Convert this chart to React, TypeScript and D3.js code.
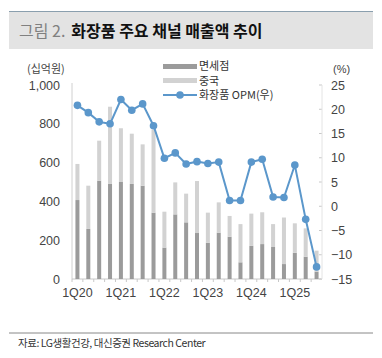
import React from 'react';
import * as d3 from 'd3';

const quarters = [
  '1Q20', '2Q20', '3Q20', '4Q20',
  '1Q21', '2Q21', '3Q21', '4Q21',
  '1Q22', '2Q22', '3Q22', '4Q22',
  '1Q23', '2Q23', '3Q23', '4Q23',
  '1Q24', '2Q24', '3Q24', '4Q24',
  '1Q25', '2Q25', '3Q25',
];
// 십억원
const dutyFree = [407, 258, 507, 490, 500, 490, 481, 342, 162, 333, 292, 237, 187, 239, 218, 86, 171, 180, 165, 77, 135, 115, 38];
const china = [186, 223, 206, 398, 277, 259, 213, 428, 185, 165, 148, 268, 155, 156, 107, 197, 166, 164, 118, 240, 152, 146, 108];
// %
const opm = [20.8, 19.3, 17.4, 17.0, 22.0, 19.8, 21.1, 16.6, 9.9, 11.0, 8.7, 9.2, 8.8, 9.1, 1.2, 1.2, 9.1, 9.7, 1.9, 1.8, 8.5, -2.7, -12.5];
const leftTicks = [0, 200, 400, 600, 800, 1000];
const rightTicks = [25, 20, 15, 10, 5, 0, -5, -10, -15];
const xLabels = ['1Q20', '1Q21', '1Q22', '1Q23', '1Q24', '1Q25'];

const W = 382;
const H = 358;
const L = 72;
const R = 322;
const T = 85;
const B = 279;

const DARK = '#9b9b9b';
const LIGHT = '#d2d2d2';
const BLUE = '#5b97cb';
const FONT = '"Liberation Sans", "Noto Sans CJK KR", sans-serif';

export default function App() {
  const x = d3.scaleBand().domain(quarters).range([L, R]);
  const yL = d3.scaleLinear().domain([0, 1000]).range([B, T]);
  const yR = d3.scaleLinear().domain([-15, 25]).range([B, T]);
  const bw = 4;
  const cx = (q: string) => (x(q) as number) + x.bandwidth() / 2;
  const line = d3.line<number>().x((_, i) => cx(quarters[i])).y(d => yR(d));
  const fmt = d3.format(',');

  return (
    <svg width={W} height={H} style={{ position: 'absolute', left: 0, top: 0, background: '#fff' }} fontFamily={FONT}>
      {/* title bar */}
      <rect x={9} y={11} width={364} height={38} fill="#e3e3e3" />
      <line x1={9} x2={373} y1={11.5} y2={11.5} stroke="#8a9fae" strokeWidth={1} />
      <text x={19} y={37} fontSize={16} fill="#808080" fontFamily='"Noto Sans CJK KR", sans-serif'>
        그림 2.
        <tspan dx={6} fill="#111" fontWeight="bold">화장품 주요 채널 매출액 추이</tspan>
      </text>

      {/* unit labels */}
      <text x={27} y={73} fontSize={11} fill="#444" fontFamily='"Noto Sans CJK KR", sans-serif'>(십억원)</text>
      <text x={333} y={73} fontSize={11} fill="#444">(%)</text>

      {/* axes */}
      <line x1={L} x2={L} y1={T - 2} y2={B} stroke="#d0d0d0" />
      <line x1={L} x2={R} y1={B} y2={B} stroke="#c8c8c8" />
      {quarters.map(q => (
        <line key={q} x1={x(q) as number} x2={x(q) as number} y1={B} y2={B + 3} stroke="#c8c8c8" />
      ))}
      {leftTicks.map(t => (
        <text key={t} x={60} y={yL(t) + 4.5} fontSize={12.5} textAnchor="end" fill="#444">{fmt(t)}</text>
      ))}
      {rightTicks.map(t => (
        <g key={t}>
          <line x1={R - 3} x2={R} y1={yR(t)} y2={yR(t)} stroke="#c8c8c8" />
          <text x={331} y={yR(t) + 4.5} fontSize={12.5} fill="#444">{d3.format('')(t).replace('-', '−')}</text>
        </g>
      ))}
      <line x1={R} x2={R} y1={T} y2={B} stroke="#e4e4e4" />
      {xLabels.map(q => (
        <text key={q} x={cx(q)} y={297} fontSize={12.5} textAnchor="middle" fill="#444">{q}</text>
      ))}

      {/* bars */}
      {quarters.map((q, i) => (
        <g key={q}>
          <rect x={cx(q) - bw / 2} width={bw} y={yL(dutyFree[i])} height={B - yL(dutyFree[i])} fill={DARK} />
          <rect x={cx(q) - bw / 2} width={bw} y={yL(dutyFree[i] + china[i])} height={yL(dutyFree[i]) - yL(dutyFree[i] + china[i])} fill={LIGHT} />
        </g>
      ))}

      {/* OPM line */}
      <path d={line(opm) as string} fill="none" stroke={BLUE} strokeWidth={2} />
      {opm.map((v, i) => (
        <circle key={i} cx={cx(quarters[i])} cy={yR(v)} r={3.8} fill={BLUE} />
      ))}

      {/* legend */}
      <g fontFamily='"Noto Sans CJK KR", sans-serif' fontSize={11} fill="#333">
        <rect x={163} y={64} width={34} height={5} fill={DARK} />
        <text x={199} y={70}>면세점</text>
        <rect x={163} y={78} width={34} height={5} fill={LIGHT} />
        <text x={199} y={84.5}>중국</text>
        <line x1={163} x2={197} y1={95} y2={95} stroke={BLUE} strokeWidth={2} />
        <circle cx={180} cy={95} r={3.8} fill={BLUE} />
        <text x={199} y={99}>화장품 OPM(우)</text>
      </g>

      {/* source */}
      <line x1={9} x2={373} y1={333} y2={333} stroke="#888" />
      <text x={18} y={347} fontSize={10.5} fill="#333" letterSpacing={-0.45} fontFamily='"Noto Sans CJK KR", sans-serif'>
        자료: LG생활건강, 대신증권 Research Center
      </text>
    </svg>
  );
}
